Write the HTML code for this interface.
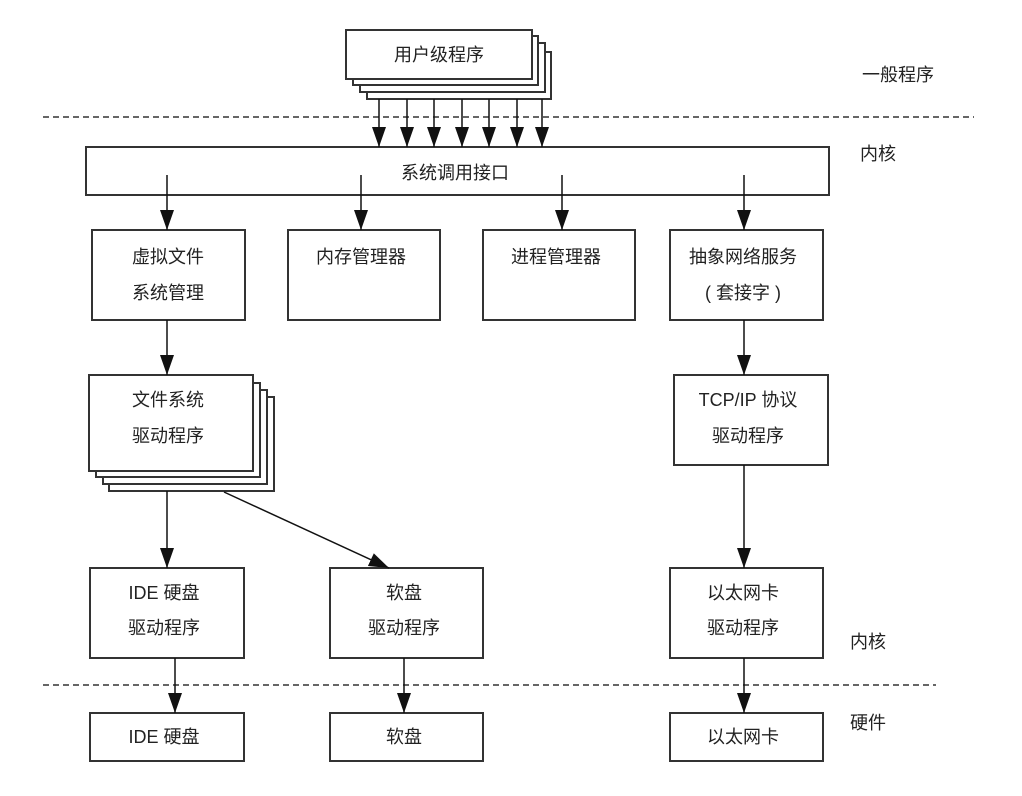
<!DOCTYPE html>
<html><head><meta charset="utf-8"><style>
html,body{margin:0;padding:0;background:#fff;}
svg{display:block;}
text{font-family:"Liberation Sans","Noto Sans CJK SC",sans-serif;font-size:18px;fill:#222;text-anchor:middle;}
</style></head><body>
<svg width="1022" height="796" viewBox="0 0 1022 796" xmlns="http://www.w3.org/2000/svg">
<defs>
<marker id="a" markerWidth="12" markerHeight="14" refX="6" refY="13" orient="auto-start-reverse" markerUnits="userSpaceOnUse" viewBox="0 0 12 14">
<path d="M0,0 L12,0 L6,14 Z" fill="#111" transform="rotate(0)"/>
</marker>
<marker id="b" markerWidth="20" markerHeight="14" refX="20" refY="7" orient="auto" markerUnits="userSpaceOnUse">
<path d="M0,0 L20,7 L0,14 Z" fill="#111"/>
</marker>
</defs>
<g fill="#fff" stroke="#333" stroke-width="2">
<!-- user program stack -->
<rect x="367" y="52" width="184" height="47"/>
<rect x="360" y="43" width="185" height="49"/>
<rect x="353" y="36" width="185" height="49"/>
<rect x="346" y="30" width="186" height="49"/>
<!-- syscall -->
<rect x="86" y="147" width="743" height="48"/>
<!-- row 2 -->
<rect x="92" y="230" width="153" height="90"/>
<rect x="288" y="230" width="152" height="90"/>
<rect x="483" y="230" width="152" height="90"/>
<rect x="670" y="230" width="153" height="90"/>
<!-- fs stack -->
<rect x="109" y="397" width="165" height="94"/>
<rect x="103" y="390" width="164" height="94"/>
<rect x="96" y="383" width="164" height="94"/>
<rect x="89" y="375" width="164" height="96"/>
<rect x="674" y="375" width="154" height="90"/>
<!-- row 3 -->
<rect x="90" y="568" width="154" height="90"/>
<rect x="330" y="568" width="153" height="90"/>
<rect x="670" y="568" width="153" height="90"/>
<!-- bottom -->
<rect x="90" y="713" width="154" height="48"/>
<rect x="330" y="713" width="153" height="48"/>
<rect x="670" y="713" width="153" height="48"/>
</g>
<g stroke="#333" stroke-width="1.5" stroke-dasharray="6,4">
<line x1="43" y1="117" x2="974" y2="117"/>
<line x1="43" y1="685" x2="936" y2="685"/>
</g>
<g stroke="#111" stroke-width="1.5" fill="none" marker-end="url(#b)">
<line x1="379" y1="99" x2="379" y2="147"/>
<line x1="407" y1="99" x2="407" y2="147"/>
<line x1="434" y1="99" x2="434" y2="147"/>
<line x1="462" y1="99" x2="462" y2="147"/>
<line x1="489" y1="99" x2="489" y2="147"/>
<line x1="517" y1="99" x2="517" y2="147"/>
<line x1="542" y1="99" x2="542" y2="147"/>
<line x1="167" y1="175" x2="167" y2="230"/>
<line x1="361" y1="175" x2="361" y2="230"/>
<line x1="562" y1="175" x2="562" y2="230"/>
<line x1="744" y1="175" x2="744" y2="230"/>
<line x1="167" y1="320" x2="167" y2="375"/>
<line x1="744" y1="320" x2="744" y2="375"/>
<line x1="167" y1="491" x2="167" y2="568"/>
<line x1="224" y1="492" x2="389" y2="568"/>
<line x1="744" y1="465" x2="744" y2="568"/>
<line x1="175" y1="658" x2="175" y2="713"/>
<line x1="404" y1="658" x2="404" y2="713"/>
<line x1="744" y1="658" x2="744" y2="713"/>
</g>
<text x="439" y="61">用户级程序</text>
<text x="455" y="179">系统调用接口</text>
<text x="898" y="81">一般程序</text>
<text x="878" y="160">内核</text>
<text x="168" y="263">虚拟文件</text>
<text x="168" y="299">系统管理</text>
<text x="361" y="263">内存管理器</text>
<text x="556" y="263">进程管理器</text>
<text x="743" y="263">抽象网络服务</text>
<text x="743" y="299">( 套接字 )</text>
<text x="168" y="406">文件系统</text>
<text x="168" y="442">驱动程序</text>
<text x="748" y="406">TCP/IP 协议</text>
<text x="748" y="442">驱动程序</text>
<text x="164" y="599">IDE 硬盘</text>
<text x="164" y="634">驱动程序</text>
<text x="404" y="599">软盘</text>
<text x="404" y="634">驱动程序</text>
<text x="743" y="599">以太网卡</text>
<text x="743" y="634">驱动程序</text>
<text x="868" y="648">内核</text>
<text x="164" y="743">IDE 硬盘</text>
<text x="404" y="743">软盘</text>
<text x="743" y="743">以太网卡</text>
<text x="868" y="729">硬件</text>
</g>
</svg>
</body></html>
